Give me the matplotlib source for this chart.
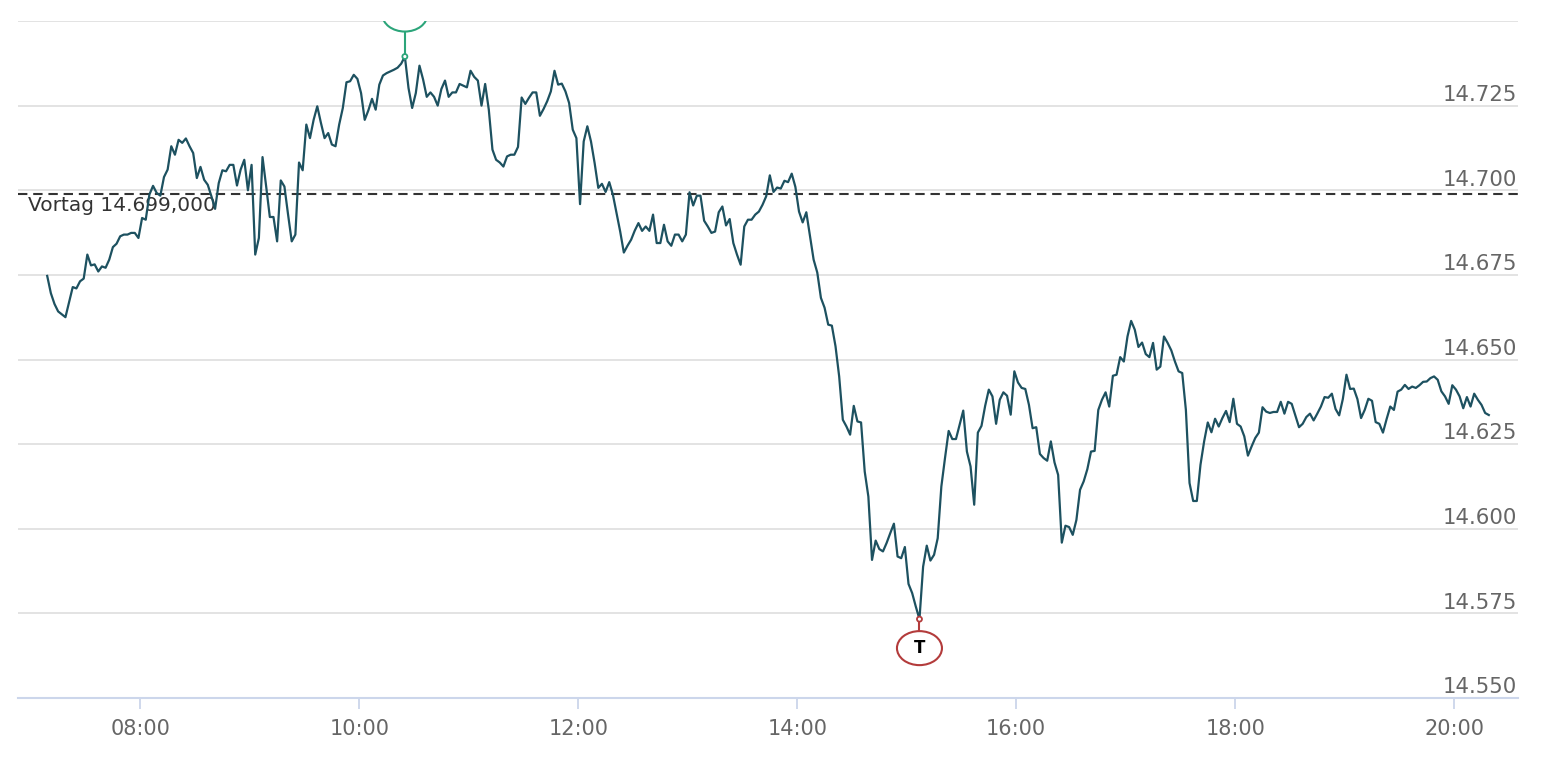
import numpy as np
import pandas as pd
import matplotlib
matplotlib.use("Agg")
import matplotlib.pyplot as plt
import matplotlib.dates as mdates
from matplotlib.patches import Ellipse
from matplotlib.transforms import ScaledTranslation, blended_transform_factory

# intraday quotes (2 minute bars)
times = [
    "07:09", "07:11", "07:13", "07:15", "07:19", "07:23", "07:25", "07:27", "07:29", "07:31",
    "07:33", "07:35", "07:37", "07:39", "07:41", "07:43", "07:45", "07:47", "07:49", "07:51",
    "07:53", "07:55", "07:57", "07:59", "08:01", "08:03", "08:05", "08:07", "08:09", "08:11",
    "08:13", "08:15", "08:17", "08:19", "08:21", "08:23", "08:25", "08:27", "08:29", "08:31",
    "08:33", "08:35", "08:37", "08:39", "08:41", "08:43", "08:45", "08:47", "08:49", "08:51",
    "08:53", "08:55", "08:57", "08:59", "09:01", "09:03", "09:05", "09:07", "09:09", "09:11",
    "09:13", "09:15", "09:17", "09:19", "09:21", "09:23", "09:25", "09:27", "09:29", "09:31",
    "09:33", "09:35", "09:37", "09:39", "09:41", "09:43", "09:45", "09:47", "09:49", "09:51",
    "09:53", "09:55", "09:57", "09:59", "10:01", "10:03", "10:05", "10:07", "10:09", "10:11",
    "10:13", "10:15", "10:17", "10:19", "10:21", "10:23", "10:25", "10:27", "10:29", "10:31",
    "10:33", "10:35", "10:37", "10:39", "10:41", "10:43", "10:45", "10:47", "10:49", "10:51",
    "10:53", "10:55", "10:57", "10:59", "11:01", "11:03", "11:05", "11:07", "11:09", "11:11",
    "11:13", "11:15", "11:17", "11:19", "11:21", "11:23", "11:25", "11:27", "11:29", "11:31",
    "11:33", "11:35", "11:37", "11:39", "11:41", "11:43", "11:45", "11:47", "11:49", "11:51",
    "11:53", "11:55", "11:57", "11:59", "12:01", "12:03", "12:05", "12:07", "12:09", "12:11",
    "12:13", "12:15", "12:17", "12:19", "12:21", "12:23", "12:25", "12:27", "12:29", "12:31",
    "12:33", "12:35", "12:37", "12:39", "12:41", "12:43", "12:45", "12:47", "12:49", "12:51",
    "12:53", "12:55", "12:57", "12:59", "13:01", "13:03", "13:05", "13:07", "13:09", "13:11",
    "13:13", "13:15", "13:17", "13:19", "13:21", "13:23", "13:25", "13:27", "13:29", "13:31",
    "13:33", "13:35", "13:37", "13:39", "13:41", "13:43", "13:45", "13:47", "13:49", "13:51",
    "13:53", "13:55", "13:57", "13:59", "14:01", "14:03", "14:05", "14:07", "14:09", "14:11",
    "14:13", "14:15", "14:17", "14:19", "14:21", "14:23", "14:25", "14:27", "14:29", "14:31",
    "14:33", "14:35", "14:37", "14:39", "14:41", "14:43", "14:45", "14:47", "14:49", "14:51",
    "14:53", "14:55", "14:57", "14:59", "15:01", "15:03", "15:05", "15:07", "15:09", "15:11",
    "15:13", "15:15", "15:17", "15:19", "15:21", "15:23", "15:25", "15:27", "15:29", "15:31",
    "15:33", "15:35", "15:37", "15:39", "15:41", "15:43", "15:45", "15:47", "15:49", "15:51",
    "15:53", "15:55", "15:57", "15:59", "16:01", "16:03", "16:05", "16:07", "16:09", "16:11",
    "16:13", "16:15", "16:17", "16:19", "16:21", "16:23", "16:25", "16:27", "16:29", "16:31",
    "16:33", "16:35", "16:37", "16:39", "16:41", "16:43", "16:45", "16:47", "16:49", "16:51",
    "16:53", "16:55", "16:57", "16:59", "17:01", "17:03", "17:05", "17:07", "17:09", "17:11",
    "17:13", "17:15", "17:17", "17:19", "17:21", "17:23", "17:25", "17:27", "17:29", "17:31",
    "17:33", "17:35", "17:37", "17:39", "17:41", "17:43", "17:45", "17:47", "17:49", "17:51",
    "17:53", "17:55", "17:57", "17:59", "18:01", "18:03", "18:05", "18:07", "18:09", "18:11",
    "18:13", "18:15", "18:17", "18:19", "18:21", "18:23", "18:25", "18:27", "18:29", "18:31",
    "18:33", "18:35", "18:37", "18:39", "18:41", "18:43", "18:45", "18:47", "18:49", "18:51",
    "18:53", "18:55", "18:57", "18:59", "19:01", "19:03", "19:05", "19:07", "19:09", "19:11",
    "19:13", "19:15", "19:17", "19:19", "19:21", "19:23", "19:25", "19:27", "19:29", "19:31",
    "19:33", "19:35", "19:37", "19:39", "19:41", "19:43", "19:45", "19:47", "19:49", "19:51",
    "19:53", "19:55", "19:57", "19:59", "20:01", "20:03", "20:05", "20:07", "20:09", "20:11",
    "20:13", "20:15", "20:17", "20:19",
]
prices = [
    14.6747, 14.6696, 14.6664, 14.6642, 14.6625, 14.6714, 14.6710, 14.6731, 14.6739, 14.6810,
    14.6778, 14.6781, 14.6760, 14.6775, 14.6771, 14.6795, 14.6832, 14.6842, 14.6864, 14.6869,
    14.6869, 14.6874, 14.6874, 14.6859, 14.6918, 14.6913, 14.6987, 14.7013, 14.6992, 14.6984,
    14.7039, 14.7061, 14.7130, 14.7105, 14.7149, 14.7140, 14.7153, 14.7130, 14.7110, 14.7036,
    14.7069, 14.7031, 14.7016, 14.6982, 14.6945, 14.7021, 14.7059, 14.7056, 14.7075, 14.7075,
    14.7014, 14.7061, 14.7090, 14.7000, 14.7075, 14.6810, 14.6859, 14.7098, 14.7011, 14.6921,
    14.6921, 14.6849, 14.7029, 14.7011, 14.6928, 14.6849, 14.6869, 14.7082, 14.7059, 14.7194,
    14.7154, 14.7208, 14.7248, 14.7199, 14.7154, 14.7169, 14.7135, 14.7130, 14.7194, 14.7243,
    14.7319, 14.7322, 14.7341, 14.7329, 14.7287, 14.7208, 14.7236, 14.7270, 14.7238, 14.7312,
    14.7339, 14.7346, 14.7351, 14.7356, 14.7362, 14.7374, 14.7395, 14.7302, 14.7243, 14.7287,
    14.7368, 14.7327, 14.7276, 14.7289, 14.7276, 14.7250, 14.7299, 14.7324, 14.7276, 14.7289,
    14.7289, 14.7314, 14.7309, 14.7304, 14.7353, 14.7335, 14.7324, 14.7250, 14.7314, 14.7238,
    14.7120, 14.7090, 14.7082, 14.7070, 14.7100, 14.7105, 14.7105, 14.7128, 14.7274, 14.7255,
    14.7273, 14.7289, 14.7289, 14.7220, 14.7240, 14.7263, 14.7292, 14.7353, 14.7312, 14.7315,
    14.7292, 14.7258, 14.7179, 14.7154, 14.6959, 14.7144, 14.7189, 14.7144, 14.7080, 14.7007,
    14.7019, 14.6995, 14.7024, 14.6987, 14.6933, 14.6878, 14.6816, 14.6836, 14.6854, 14.6881,
    14.6903, 14.6880, 14.6893, 14.6880, 14.6928, 14.6844, 14.6844, 14.6898, 14.6849, 14.6836,
    14.6869, 14.6869, 14.6849, 14.6869, 14.6994, 14.6955, 14.6984, 14.6984, 14.6910, 14.6893,
    14.6874, 14.6878, 14.6935, 14.6952, 14.6896, 14.6915, 14.6844, 14.6810, 14.6780, 14.6893,
    14.6913, 14.6913, 14.6928, 14.6937, 14.6957, 14.6982, 14.7044, 14.6995, 14.7008, 14.7005,
    14.7028, 14.7024, 14.7049, 14.7010, 14.6937, 14.6905, 14.6935, 14.6864, 14.6795, 14.6757,
    14.6682, 14.6653, 14.6603, 14.6600, 14.6539, 14.6450, 14.6322, 14.6302, 14.6278, 14.6363,
    14.6317, 14.6314, 14.6169, 14.6095, 14.5908, 14.5965, 14.5940, 14.5933, 14.5958, 14.5987,
    14.6015, 14.5918, 14.5913, 14.5946, 14.5837, 14.5810, 14.5770, 14.5733, 14.5888, 14.5950,
    14.5906, 14.5923, 14.5972, 14.6125, 14.6209, 14.6289, 14.6265, 14.6265, 14.6307, 14.6349,
    14.6228, 14.6184, 14.6071, 14.6284, 14.6304, 14.6363, 14.6411, 14.6391, 14.6310, 14.6381,
    14.6403, 14.6393, 14.6337, 14.6465, 14.6432, 14.6416, 14.6413, 14.6366, 14.6297, 14.6300,
    14.6221, 14.6209, 14.6201, 14.6258, 14.6196, 14.6159, 14.5959, 14.6009, 14.6005, 14.5982,
    14.6026, 14.6115, 14.6140, 14.6176, 14.6228, 14.6230, 14.6351, 14.6381, 14.6403, 14.6361,
    14.6452, 14.6455, 14.6507, 14.6494, 14.6568, 14.6614, 14.6588, 14.6537, 14.6550, 14.6516,
    14.6507, 14.6549, 14.6470, 14.6479, 14.6568, 14.6549, 14.6527, 14.6494, 14.6465, 14.6460,
    14.6351, 14.6135, 14.6082, 14.6082, 14.6189, 14.6258, 14.6314, 14.6285, 14.6325, 14.6302,
    14.6327, 14.6348, 14.6315, 14.6384, 14.6310, 14.6302, 14.6273, 14.6216, 14.6243, 14.6268,
    14.6284, 14.6359, 14.6346, 14.6342, 14.6345, 14.6345, 14.6375, 14.6340, 14.6375, 14.6369,
    14.6334, 14.6300, 14.6310, 14.6330, 14.6340, 14.6320, 14.6340, 14.6361, 14.6389, 14.6387,
    14.6399, 14.6354, 14.6335, 14.6383, 14.6455, 14.6413, 14.6414, 14.6383, 14.6327, 14.6351,
    14.6384, 14.6378, 14.6315, 14.6310, 14.6284, 14.6324, 14.6361, 14.6351, 14.6405, 14.6411,
    14.6425, 14.6413, 14.6420, 14.6416, 14.6424, 14.6434, 14.6435, 14.6445, 14.6450, 14.6440,
    14.6406, 14.6391, 14.6369, 14.6424, 14.6411, 14.6391, 14.6356, 14.6389, 14.6361, 14.6399,
    14.6381, 14.6366, 14.6342, 14.6336,
]
prev_close = 14.699
prev_label = "Vortag 14.699,000"
y_ticks = [14.550, 14.575, 14.600, 14.625, 14.650, 14.675, 14.700, 14.725, 14.750]
y_labels = ["14.550", "14.575", "14.600", "14.625", "14.650", "14.675", "14.700", "14.725"]
x_ticks = ["08:00", "10:00", "12:00", "14:00", "16:00", "18:00", "20:00"]
x_range = ["06:53", "20:35"]

day = "2024-01-02 "
t = pd.to_datetime([day + s for s in times])
p = np.array(prices)

line_col = "#1d5160"
grid_col = "#e3e3e3"
axis_col = "#ccd6eb"
label_col = "#666666"
high_col = "#2ca57a"
low_col = "#b33b3b"

fig = plt.figure(figsize=(15.46, 7.66), dpi=100)
ax = fig.add_axes([18 / 1546, 68 / 766, 1500 / 1546, 677 / 766])

ax.set_ylim(14.55, 14.75)
ax.set_xlim(pd.Timestamp(day + x_range[0]), pd.Timestamp(day + x_range[1]))

# grid + axes styling
ax.set_yticks(y_ticks)
ax.yaxis.grid(True, color=grid_col, lw=1.4)
ax.tick_params(axis="y", length=0, labelleft=False)
ax.set_xticks(pd.to_datetime([day + s for s in x_ticks]))
ax.xaxis.set_major_formatter(mdates.DateFormatter("%H:%M"))
ax.tick_params(axis="x", length=8, width=1.3, color=axis_col, labelcolor=label_col,
               labelsize=15, pad=7)
for side in ["top", "left", "right"]:
    ax.spines[side].set_visible(False)
ax.spines["bottom"].set_color(axis_col)
ax.spines["bottom"].set_linewidth(1.5)
ax.set_axisbelow(True)

# y labels sit inside the plot, right aligned above their grid line
ytrans = blended_transform_factory(ax.transAxes, ax.transData)
for val, lab in zip(y_ticks, y_labels):
    ax.annotate(lab, xy=(1.0, val), xycoords=ytrans, xytext=(-0.5, 0.5),
                textcoords="offset points", ha="right", va="bottom",
                fontsize=15.3, color=label_col)

# previous close
ax.axhline(prev_close, color="#333333", lw=1.5, ls=(0, (4.5, 2.8)), zorder=2)
ax.annotate(prev_label, xy=(0.0067, prev_close), xycoords=ytrans, xytext=(0, -2),
            textcoords="offset points", ha="left", va="top", fontsize=14.5,
            color="#333333", zorder=1)

ax.plot(t, p, color=line_col, lw=1.6, zorder=3)

# high / low flags
def flag(i, col, text, dy):
    xnum = mdates.date2num(t[i])
    tr = fig.dpi_scale_trans + ScaledTranslation(xnum, p[i], ax.transData)
    h = 0.34
    edge = dy - h / 2 if dy > 0 else dy + h / 2
    ax.plot([0, 0], [0, edge], color=col, lw=1.5, transform=tr, zorder=4)
    ax.add_patch(Ellipse((0, dy), 0.45, h, transform=tr, facecolor="white",
                         edgecolor=col, lw=1.5, zorder=5))
    ax.add_patch(Ellipse((0, 0), 0.05, 0.05, transform=tr, facecolor="white",
                         edgecolor=col, lw=1.3, zorder=6))
    ax.text(0, dy, text, transform=tr, ha="center", va="center", fontsize=12,
            fontweight="bold", color="black", zorder=6, clip_on=True)

flag(int(np.argmax(p)), high_col, "H", 0.42)
flag(int(np.argmin(p)), low_col, "T", -0.29)

fig.savefig("out.png", dpi=100)
